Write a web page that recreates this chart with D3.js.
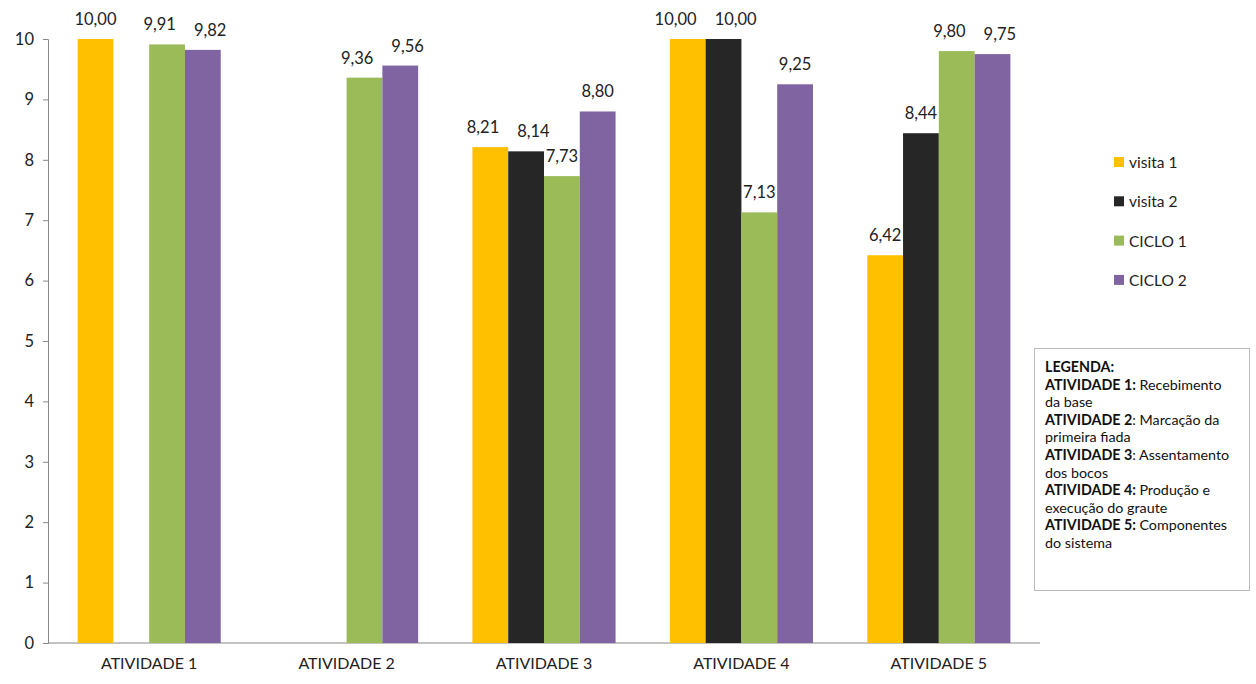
<!DOCTYPE html>
<html><head><meta charset="utf-8">
<script src="https://cdn.jsdelivr.net/npm/d3@7"></script>
<style>body{margin:0;background:#fff}svg{font-family:Lato,"Open Sans",sans-serif}</style>
</head><body><svg id="c" width="1256" height="684"></svg>
<script>
const categories = ["ATIVIDADE 1","ATIVIDADE 2","ATIVIDADE 3","ATIVIDADE 4","ATIVIDADE 5"];
const seriesNames = ["visita 1","visita 2","CICLO 1","CICLO 2"];
const visita1 = [10.00, null, 8.21, 10.00, 6.42];
const visita2 = [null, null, 8.14, 10.00, 8.44];
const ciclo1 = [9.91, 9.36, 7.73, 7.13, 9.80];
const ciclo2 = [9.82, 9.56, 8.80, 9.25, 9.75];
const colors = ["#FFC000","#262626","#9BBB59","#8064A2"];
const yTicks = [0,1,2,3,4,5,6,7,8,9,10];
const legendLines = [
 [["LEGENDA:",true]],
 [["ATIVIDADE 1: ",true],["Recebimento",false]],
 [["da base",false]],
 [["ATIVIDADE 2",true],[": Marcação da",false]],
 [["primeira fiada",false]],
 [["ATIVIDADE 3",true],[": Assentamento",false]],
 [["dos bocos",false]],
 [["ATIVIDADE 4: ",true],["Produção e",false]],
 [["execução do graute",false]],
 [["ATIVIDADE 5: ",true],["Componentes",false]],
 [["do sistema",false]]
];
const series = [visita1, visita2, ciclo1, ciclo2];

(function(){
const svg = d3.select("#c");
const mL = 48, mR = 1040, mT = 39, mB = 643;
const x0 = d3.scaleBand().domain(categories).range([mL, mR]).paddingInner(0.275).paddingOuter(0.15);
const x1 = d3.scaleBand().domain(seriesNames).range([0, x0.bandwidth()]);
const y = d3.scaleLinear().domain([0,10]).range([mB, mT]);

const yAxis = d3.axisLeft(y).tickValues(yTicks).tickSize(5).tickPadding(9).tickFormat(d3.format("d"));
const gy = svg.append("g").attr("transform",`translate(${mL},0)`).call(yAxis).attr("font-family",null);
gy.select(".domain").attr("stroke","#888");
gy.selectAll(".tick line").attr("stroke","#888");
gy.selectAll("text").attr("font-size",16.5).attr("fill","#222");

const xAxis = d3.axisBottom(x0).tickSize(0).tickPadding(15);
const gx = svg.append("g").attr("transform",`translate(0,${mB})`).call(xAxis).attr("font-family",null);
gx.select(".domain").attr("stroke","#888").attr("d",`M${mL},0H${mR}`);
gx.selectAll("text").attr("font-size",16).attr("fill","#222");

const fmt = v => v.toFixed(2).replace(".",",");
const labels = [];
series.forEach((s, si) => {
  const data = categories.map((c,i)=>({c, v:s[i], si})).filter(d=>d.v!=null);
  svg.append("g").selectAll("rect").data(data).join("rect")
    .attr("x", d => x0(d.c) + x1(seriesNames[si]))
    .attr("y", d => y(d.v))
    .attr("width", x1.bandwidth())
    .attr("height", d => y(0) - y(d.v))
    .attr("fill", colors[si]);
  data.forEach(d => labels.push(d));
});
labels.forEach(d => { d.x = x0(d.c) + x1(seriesNames[d.si]) + x1.bandwidth()/2; d.y = y(d.v) - 14; });
const lt = svg.append("g").selectAll("text").data(labels).join("text")
    .attr("x", d => d.x).attr("y", d => d.y)
    .attr("text-anchor","middle")
    .attr("font-size",16.5).attr("fill","#222")
    .text(d => fmt(d.v));
// resolve overlapping labels: push apart horizontally
lt.each(function(d){ d.w = this.getComputedTextLength(); });
categories.forEach(c => {
  const ls = labels.filter(d=>d.c===c).sort((a,b)=>a.x-b.x);
  for (let i=0;i<ls.length-1;i++){
    const a=ls[i], b=ls[i+1];
    if (Math.abs(a.y-b.y) < 14) {
      const overlap = (a.x + a.w/2) - (b.x - b.w/2);
      if (overlap > -4) { const sh = overlap/2 + 9; a.x -= sh; b.x += sh; }
    }
  }
});
lt.attr("x", d => d.x);

const lg = svg.append("g");
seriesNames.forEach((n,i)=>{
  const yy = 163 + i*39.3;
  lg.append("rect").attr("x",1114).attr("y",yy-6).attr("width",10).attr("height",10).attr("fill",colors[i]);
  lg.append("text").attr("x",1129).attr("y",yy+5).attr("font-size",15.5).attr("fill","#222").text(n);
});

svg.append("rect").attr("x",1034.5).attr("y",348.5).attr("width",215).attr("height",242)
  .attr("fill","#fff").attr("stroke","#bbb");
legendLines.forEach((line,i)=>{
  const t = svg.append("text").attr("x",1045).attr("y",372 + i*17.6).attr("font-size",14.3).attr("fill","#111");
  line.forEach(([s,b])=> t.append("tspan").attr("font-weight", b ? "bold":"normal").text(s));
});
})();
</script></body></html>
